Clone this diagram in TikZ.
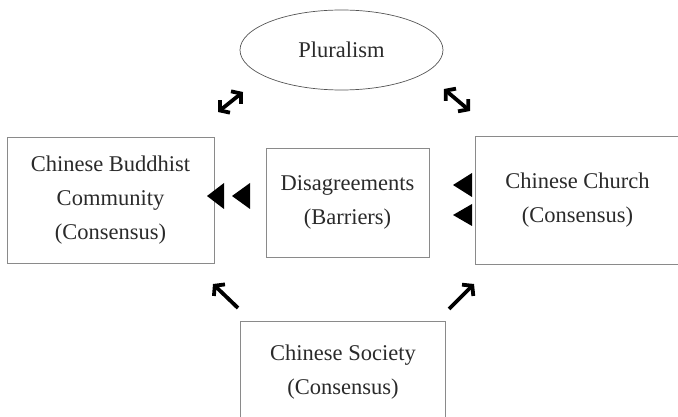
\documentclass[tikz,border=0pt]{standalone}
\usepackage{fontspec}
\setmainfont{Liberation Serif}
\usetikzlibrary{shapes.geometric,arrows.meta}
\definecolor{ink}{HTML}{2A2A2A}
\definecolor{frame}{HTML}{8A8A8A}
\begin{document}
\begin{tikzpicture}[x=1pt,y=-1pt,
  label text/.style={text=ink,font=\fontsize{22.5}{34}\selectfont,align=center,inner sep=0pt},
  boxnode/.style={label text,draw=frame,line width=0.8pt,rectangle},
  openbox/.style={label text,rectangle},
  barb/.tip={Straight Barb[length=6.5pt,width=16pt,line width=3.8pt]},
  thickarrow/.style={line width=3.8pt,draw=black,-barb},
  dblarrow/.style={line width=3.8pt,draw=black,barb-barb}]
\useasboundingbox (0,0) rectangle (678,417);

% central idea at the top
\node[ellipse,draw=ink!80,line width=0.7pt,minimum width=203pt,minimum height=80pt,
      label text] (plur) at (341.5,50) {Pluralism};

% the three communities and the barrier between them
\node[boxnode,minimum width=207pt,minimum height=126pt] (bud) at (110.5,200)
  {Chinese Buddhist\\Community\\(Consensus)};
\node[boxnode,minimum width=163pt,minimum height=109pt] (dis) at (347.5,202.5)
  {Disagreements\\(Barriers)};
\node[openbox,minimum width=203pt,minimum height=127pt] (church) at (577.5,200.5)
  {Chinese Church\\(Consensus)};
\draw[frame,line width=0.8pt] (church.north east) -- (church.north west)
  -- (church.south west) -- (church.south east);
\node[openbox,minimum width=204pt,minimum height=100pt] (soc) at (343,372)
  {Chinese Society\\(Consensus)};
\draw[frame,line width=0.8pt] (soc.south west) -- (soc.north west)
  -- (soc.north east) -- (soc.south east);

% arrow end points
\coordinate (a1s) at (218,112);
\coordinate (a1e) at (243,92);
\coordinate (a2s) at (444,89);
\coordinate (a2e) at (470,111);
\coordinate (a3s) at (238,308);
\coordinate (a3e) at (213,284);
\coordinate (a4s) at (449,309);
\coordinate (a4e) at (474,284);

\draw[dblarrow] (a1s) -- (a1e);
\draw[dblarrow] (a2s) -- (a2e);
\draw[thickarrow] (a3s) -- (a3e);
\draw[thickarrow] (a4s) -- (a4e);

% pressure markers towards the Buddhist community
\fill[black] (207,196) -- (224,183) -- (224,209) -- cycle;
\fill[black] (232,196) -- (250,183) -- (250,209) -- cycle;
% pressure markers from the church side
\fill[black] (453,185) -- (472,173) -- (472,197) -- cycle;
\fill[black] (453,215) -- (472,204) -- (472,226) -- cycle;
\end{tikzpicture}
\end{document}
